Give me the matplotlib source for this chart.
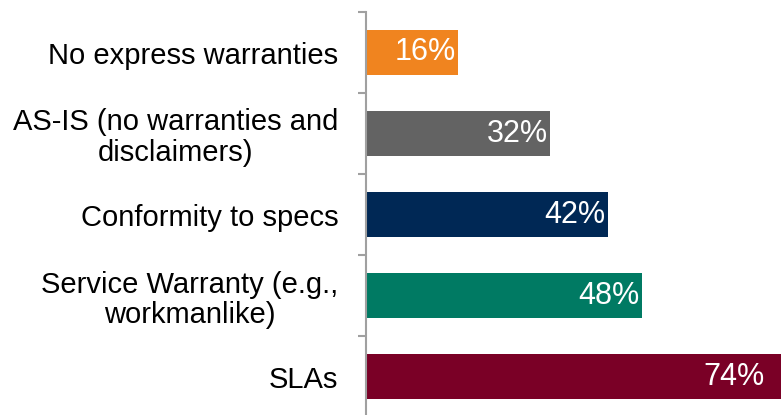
import numpy as np
import matplotlib.pyplot as plt
from matplotlib.ticker import FixedLocator

plt.rcParams['font.family'] = ['Liberation Sans', 'DejaVu Sans']

# warranty types, top to bottom
categories = ['No express warranties', 'AS-IS (no warranties and\ndisclaimers)',
              'Conformity to specs', 'Service Warranty (e.g.,\nworkmanlike)', 'SLAs']
values = [16, 32, 42, 48, 74]
colors = ['#F0841F', '#636363', '#002855', '#007A63', '#7A0026']

fig = plt.figure(figsize=(7.81, 4.15), dpi=100)
# axes runs off the right/bottom edge on purpose so the longest bar is cut by the frame
W, H = 781.0, 415.0
x0, px_per_pct = 366.0, 5.75
xmax = 80
ax = fig.add_axes([x0 / W, -2 / H, xmax * px_per_pct / W, 405 / H])

y = np.arange(len(categories))
ax.barh(y, values, height=0.56, color=colors, zorder=2)
ax.set_xlim(0, xmax)
ax.set_ylim(len(categories) - 0.5, -0.5)

# right edge of the figure in data units, labels stay inside it
x_edge = (W - x0) / px_per_pct
for yi, v in zip(y, values):
    xl = min(v, x_edge - 2.5) - 0.35
    ax.text(xl, yi, f'{v}%', ha='right', va='center', color='white',
            fontsize=22, zorder=3)

ax.set_yticks(y)
ax.set_yticklabels(categories, fontsize=21, linespacing=1.12,
                   multialignment='center')
ax.yaxis.set_minor_locator(FixedLocator(np.arange(-0.5, len(categories), 1.0)))
ax.tick_params(axis='y', which='major', length=0, pad=20)
ax.tick_params(axis='y', which='minor', length=6, width=1.5, color='#A0A0A0')
ax.set_xticks([])

for s in ['top', 'right', 'bottom']:
    ax.spines[s].set_visible(False)
ax.spines['left'].set_color('#A0A0A0')
ax.spines['left'].set_linewidth(1.5)

fig.savefig('out.png', dpi=100)
